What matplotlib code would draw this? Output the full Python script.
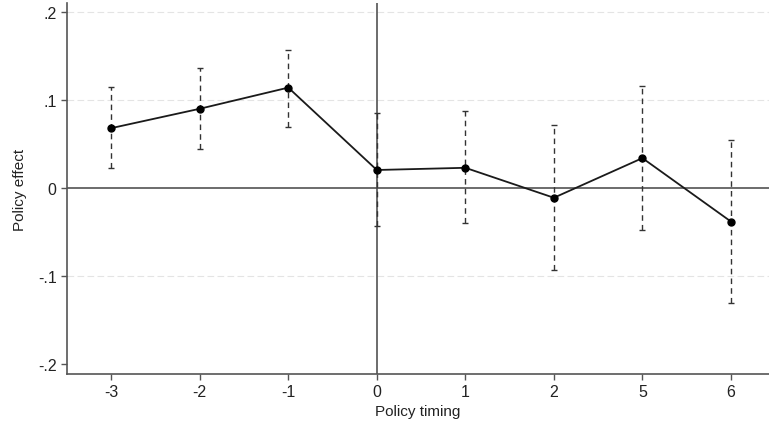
import numpy as np
import matplotlib.pyplot as plt

plt.rcParams['font.family'] = ['Liberation Sans', 'DejaVu Sans']

# event-study estimates
timing = ['-3', '-2', '-1', '0', '1', '2', '5', '6']
effect = [0.068, 0.090, 0.114, 0.0205, 0.023, -0.011, 0.034, -0.038]
ci_low = [0.023, 0.044, 0.069, -0.043, -0.040, -0.093, -0.048, -0.130]
ci_high = [0.115, 0.136, 0.157, 0.085, 0.087, 0.072, 0.116, 0.055]

fig = plt.figure(figsize=(7.69, 4.27), dpi=100)
ax = fig.add_axes([0.0871, 0.1218, 0.9129, 0.8688])

x = np.arange(len(timing))
eff = np.array(effect)
lo = eff - np.array(ci_low)
hi = np.array(ci_high) - eff

# light dashed grid
for g in [0.2, 0.1, -0.1]:
    ax.axhline(g, color='#e4e4e4', lw=0.8, ls=(0, (6, 3)), zorder=0)

# reference lines
ax.axhline(0, color='#444444', lw=1.1, zorder=1)
ax.axvline(timing.index('0'), color='#444444', lw=1.1, zorder=1)

eb = ax.errorbar(x, eff, yerr=[lo, hi], fmt='none', ecolor='#333333',
                 elinewidth=1.0, capsize=2, capthick=1.0, zorder=2)
eb[2][0].set_linestyle((0, (4, 3)))

ax.plot(x, eff, color='#1a1a1a', lw=1.3, marker='o', ms=5,
        mfc='black', mec='black', zorder=3)

ax.set_xlim(-0.5, 7.43)
ax.set_ylim(-0.211, 0.21)
ax.set_xticks(x)
ax.set_xticklabels(timing)
ax.set_yticks([-0.2, -0.1, 0, 0.1, 0.2])
ax.set_yticklabels(['-.2', '-.1', '0', '.1', '.2'])

for s in ['top', 'right']:
    ax.spines[s].set_visible(False)
for s in ['left', 'bottom']:
    ax.spines[s].set_color('#555555')
    ax.spines[s].set_linewidth(1.2)

ax.tick_params(axis='both', colors='#555555', labelcolor='#222222',
               labelsize=11.5, length=4, width=1)
ax.set_xlabel('Policy timing', fontsize=11, color='#222222', labelpad=3)
ax.set_ylabel('Policy effect', fontsize=11, color='#222222', labelpad=8)

fig.savefig('out.png', dpi=100)
